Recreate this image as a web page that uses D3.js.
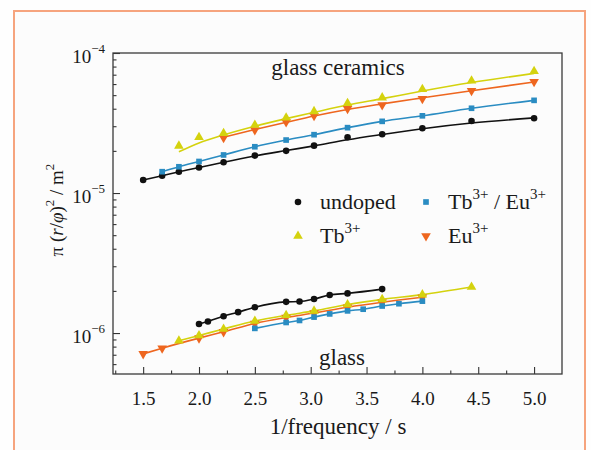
<!DOCTYPE html>
<meta charset="utf-8">
<style>
  body { margin: 0; background: #ffffff; }
  text { font-family: "Liberation Serif", "Times New Roman", serif; fill: #1a1a1a; }
</style>
<script src="https://d3js.org/d3.v7.min.js"></script>
<div id="chart"></div>
<script>
// ---- data ----
const xTicks = [1.5, 2.0, 2.5, 3.0, 3.5, 4.0, 4.5, 5.0];
const xMinor = [1.25, 1.75, 2.25, 2.75, 3.25, 3.75, 4.25, 4.75];
const yMajor = [1e-6, 1e-5, 1e-4];
const yExp = ["\u22126", "\u22125", "\u22124"];

// glass ceramics
const gcUndopedX = [1.5, 1.67, 1.82, 2.0, 2.22, 2.5, 2.78, 3.03, 3.33, 3.64, 4.0, 4.44, 5.0];
const gcUndopedY = [1.24e-5, 1.33e-5, 1.42e-5, 1.52e-5, 1.66e-5, 1.85e-5, 2.00e-5, 2.18e-5, 2.50e-5, 2.63e-5, 2.90e-5, 3.27e-5, 3.42e-5];
const gcUndopedFit = [1.24e-5, 1.33e-5, 1.42e-5, 1.52e-5, 1.66e-5, 1.84e-5, 2.01e-5, 2.17e-5, 2.40e-5, 2.62e-5, 2.88e-5, 3.16e-5, 3.44e-5];

const gcTbEuX = [1.67, 1.82, 2.0, 2.22, 2.5, 2.78, 3.03, 3.33, 3.64, 4.0, 4.44, 5.0];
const gcTbEuY = [1.42e-5, 1.54e-5, 1.68e-5, 1.87e-5, 2.14e-5, 2.39e-5, 2.61e-5, 2.93e-5, 3.25e-5, 3.56e-5, 4.03e-5, 4.59e-5];

const gcTbX = [1.82, 2.0, 2.22, 2.5, 2.78, 3.03, 3.33, 3.64, 4.0, 4.44, 5.0];
const gcTbY = [2.17e-5, 2.50e-5, 2.67e-5, 3.06e-5, 3.45e-5, 3.83e-5, 4.37e-5, 4.80e-5, 5.51e-5, 6.34e-5, 7.40e-5];
const gcTbFit = [1.97e-5, 2.28e-5, 2.60e-5, 3.00e-5, 3.40e-5, 3.77e-5, 4.25e-5, 4.72e-5, 5.35e-5, 6.15e-5, 7.15e-5];

const gcEuX = [2.22, 2.5, 2.78, 3.03, 3.33, 3.64, 4.0, 4.44, 5.0];
const gcEuY = [2.48e-5, 2.82e-5, 3.22e-5, 3.56e-5, 4.00e-5, 4.25e-5, 4.72e-5, 5.38e-5, 6.24e-5];
const gcEuFit = [2.50e-5, 2.84e-5, 3.20e-5, 3.55e-5, 3.95e-5, 4.33e-5, 4.78e-5, 5.38e-5, 6.20e-5];

// glass
const gUndopedX = [2.0, 2.08, 2.22, 2.35, 2.5, 2.78, 2.9, 3.03, 3.17, 3.33, 3.64];
const gUndopedY = [1.16e-6, 1.21e-6, 1.32e-6, 1.41e-6, 1.53e-6, 1.67e-6, 1.68e-6, 1.75e-6, 1.87e-6, 1.92e-6, 2.06e-6];

const gTbX = [1.82, 2.0, 2.22, 2.5, 2.78, 3.03, 3.33, 3.64, 4.0, 4.44];
const gTbY = [8.8e-7, 9.6e-7, 1.07e-6, 1.22e-6, 1.34e-6, 1.44e-6, 1.60e-6, 1.74e-6, 1.88e-6, 2.13e-6];

const gEuX = [1.5, 1.67, 2.0, 2.22, 2.5, 2.78, 3.03, 3.33, 3.64, 4.0];
const gEuY = [7.1e-7, 7.8e-7, 9.2e-7, 1.02e-6, 1.17e-6, 1.29e-6, 1.39e-6, 1.53e-6, 1.66e-6, 1.80e-6];

const gTbEuX = [2.5, 2.78, 2.9, 3.03, 3.17, 3.33, 3.47, 3.64, 3.79, 4.0];
const gTbEuY = [1.08e-6, 1.19e-6, 1.23e-6, 1.30e-6, 1.37e-6, 1.44e-6, 1.48e-6, 1.56e-6, 1.62e-6, 1.69e-6];

const colors = { undoped: "#111111", tb: "#d4d20e", tbeu: "#2a8cc2", eu: "#ee661f" };

// ---- layout ----
const W = 591, H = 450;
const margin = {top: 53, right: 29, bottom: 76, left: 113},
    width = W - margin.left - margin.right,
    height = H - margin.top - margin.bottom;

const svg = d3.select("#chart").append("svg")
    .attr("width", W).attr("height", H);

svg.append("rect").attr("width", W).attr("height", H).attr("fill", "#fefefe");
// orange frame
svg.append("rect")
    .attr("x", 14).attr("y", 11).attr("width", 571).attr("height", 460)
    .attr("fill", "#fcfcfc").attr("stroke", "#f6a47e").attr("stroke-width", 2);

const g = svg.append("g").attr("transform", `translate(${margin.left},${margin.top})`);

const x = d3.scaleLinear().domain([1.23, 5.25]).range([0, width]);
const y = d3.scaleLog().domain([5.1e-7, 1e-4]).range([height, 0]);

// minor y ticks
const yMinor = [];
[1e-7, 1e-6, 1e-5].forEach(d => { for (let k = 2; k <= 9; k++) yMinor.push(d * k); });

// axes with inward ticks
const xAxis = g.append("g").attr("transform", `translate(0,${height})`)
    .call(d3.axisBottom(x).tickValues(xTicks).tickSize(-7).tickPadding(18).tickFormat(d3.format(".1f")));
g.append("g").attr("transform", `translate(0,${height})`)
    .call(d3.axisBottom(x).tickValues(xMinor).tickSize(-3.5).tickFormat(""));
g.append("g")
    .call(d3.axisLeft(y).tickValues(yMajor).tickSize(-7).tickFormat(""));
g.append("g")
    .call(d3.axisLeft(y).tickValues(yMinor.filter(d => d >= 5.1e-7 && d <= 1e-4)).tickSize(-3.5).tickFormat(""));

g.selectAll(".domain").remove();
g.selectAll(".tick line").attr("stroke", "#333").attr("stroke-width", 1.1);
xAxis.selectAll("text").style("font-size", "19px").attr("fill", "#1a1a1a")
    .style("font-family", "'Liberation Serif', serif");

// y tick labels as 10^n
yMajor.forEach((d, i) => {
  const t = g.append("text")
      .attr("x", -8).attr("y", y(d) + 10)
      .attr("text-anchor", "end")
      .style("font-size", "19px");
  t.append("tspan").text("10");
  t.append("tspan").attr("dy", -10).style("font-size", "13px").text(yExp[i]);
});

// plot frame
g.append("rect").attr("width", width).attr("height", height)
    .attr("fill", "none").attr("stroke", "#3a3a3a").attr("stroke-width", 1.3);

// ---- lines ----
const line = d3.line().x(d => x(d[0])).y(d => y(d[1])).curve(d3.curveMonotoneX);
function drawLine(xs, ys, color) {
  g.append("path").datum(xs.map((v, i) => [v, ys[i]]))
      .attr("d", line).attr("fill", "none")
      .attr("stroke", color).attr("stroke-width", 1.6);
}

const circle = d3.symbol().type(d3.symbolCircle).size(34);
const square = d3.symbol().type(d3.symbolSquare).size(32);
const triUp = d3.symbol().type(d3.symbolTriangle).size(40);

function drawPoints(xs, ys, shape, color, flip) {
  g.append("g").selectAll("path")
    .data(xs.map((v, i) => [v, ys[i]]))
    .join("path")
      .attr("d", shape)
      .attr("transform", d => `translate(${x(d[0])},${y(d[1])})` + (flip ? " rotate(180)" : ""))
      .attr("fill", color);
}

// glass ceramics
drawLine(gcUndopedX, gcUndopedFit, colors.undoped);
drawLine(gcTbEuX, gcTbEuY, colors.tbeu);
drawLine(gcEuX, gcEuFit, colors.eu);
drawLine(gcTbX, gcTbFit, colors.tb);
drawPoints(gcUndopedX, gcUndopedY, circle, colors.undoped);
drawPoints(gcTbEuX, gcTbEuY, square, colors.tbeu);
drawPoints(gcEuX, gcEuY, triUp, colors.eu, true);
drawPoints(gcTbX, gcTbY, triUp, colors.tb);

// glass
drawLine(gUndopedX, gUndopedY, colors.undoped);
drawLine(gEuX, gEuY, colors.eu);
drawLine(gTbX, gTbY, colors.tb);
drawLine(gTbEuX, gTbEuY, colors.tbeu);
drawPoints(gUndopedX, gUndopedY, circle, colors.undoped);
drawPoints(gEuX, gEuY, triUp, colors.eu, true);
drawPoints(gTbX, gTbY, triUp, colors.tb);
drawPoints(gTbEuX, gTbEuY, square, colors.tbeu);

// ---- annotations ----
g.append("text").attr("x", 338 - margin.left).attr("y", 75 - margin.top).attr("text-anchor", "middle")
    .style("font-size", "23px").text("glass ceramics");
g.append("text").attr("x", 342 - margin.left).attr("y", 365 - margin.top).attr("text-anchor", "middle")
    .style("font-size", "23px").text("glass");

// ---- legend ----
const legend = [
  {label: "undoped", sup: null, shape: circle, color: colors.undoped, flip: false, col: 0, row: 0},
  {label: "Tb", sup: "3+", tail: " / Eu", sup2: "3+", shape: square, color: colors.tbeu, flip: false, col: 1, row: 0},
  {label: "Tb", sup: "3+", shape: triUp, color: colors.tb, flip: false, col: 0, row: 1},
  {label: "Eu", sup: "3+", shape: triUp, color: colors.eu, flip: true, col: 1, row: 1}
];
const colX = [298 - margin.left, 426 - margin.left];
const rowY = [202 - margin.top, 236 - margin.top];
legend.forEach(d => {
  const lx = colX[d.col], ly = rowY[d.row];
  g.append("path").attr("d", d.shape)
      .attr("transform", `translate(${lx},${ly})` + (d.flip ? " rotate(180)" : ""))
      .attr("fill", d.color);
  const t = g.append("text").attr("x", lx + 22).attr("y", ly + 7).style("font-size", "22px");
  t.append("tspan").text(d.label);
  if (d.sup) t.append("tspan").attr("dy", -10).style("font-size", "15px").text(d.sup);
  if (d.tail) {
    t.append("tspan").attr("dy", 10).text(d.tail);
    t.append("tspan").attr("dy", -10).style("font-size", "15px").text(d.sup2);
  }
});

// ---- axis titles ----
svg.append("text").attr("x", 338).attr("y", 434).attr("text-anchor", "middle")
    .style("font-size", "23px").text("1/frequency / s");

const yt = svg.append("text")
    .attr("transform", "translate(63,210) rotate(-90)")
    .attr("text-anchor", "middle")
    .style("font-size", "19px");
yt.append("tspan").text("\u03c0 (");
yt.append("tspan").style("font-style", "italic").text("r");
yt.append("tspan").text("/");
yt.append("tspan").style("font-style", "italic").text("\u03c6");
yt.append("tspan").text(")");
yt.append("tspan").attr("dy", -9).style("font-size", "13px").text("2");
yt.append("tspan").attr("dy", 9).text(" / m");
yt.append("tspan").attr("dy", -9).style("font-size", "13px").text("2");
</script>
